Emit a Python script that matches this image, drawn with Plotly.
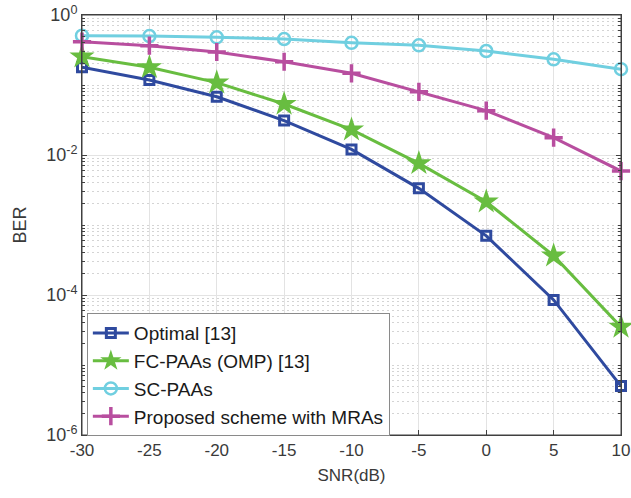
import plotly.graph_objects as go

snr = [-30, -25, -20, -15, -10, -5, 0, 5, 10]
ber_optimal = [0.179, 0.118, 0.068, 0.031, 0.012, 0.00334, 7.0e-4, 8.5e-5, 5.0e-6]
ber_fc_omp = [0.254, 0.179, 0.108, 0.0535, 0.023, 0.0076, 0.00215, 3.64e-4, 3.5e-5]
ber_sc = [0.506, 0.50, 0.48, 0.454, 0.40, 0.369, 0.306, 0.233, 0.168]
ber_proposed = [0.416, 0.364, 0.296, 0.215, 0.147, 0.080, 0.043, 0.0177, 0.0059]

names = ["Optimal [13]", "FC-PAAs (OMP) [13]", "SC-PAAs", "Proposed scheme with MRAs"]
x_ticks = [-30, -25, -20, -15, -10, -5, 0, 5, 10]
x_ticktext = ["-30", "-25", "-20", "-15", "-10", "-5", "0", "5", "10"]
y_tickvals = [1, 1e-2, 1e-4, 1e-6]
y_ticktext = ["10<sup>0</sup>", "10<sup>-2</sup>", "10<sup>-4</sup>", "10<sup>-6</sup>"]

FONT = "Liberation Sans, Arial, Helvetica, sans-serif"
AX = "#404040"

fig = go.Figure()
styles = [
    (ber_optimal, "#2f4a9f", dict(symbol="square-open", size=9, line=dict(width=3, color="#2f4a9f"))),
    (ber_fc_omp, "#68bd40", dict(symbol="star", size=19, line=dict(width=0))),
    (ber_sc, "#70cfe0", dict(symbol="circle-open", size=12, line=dict(width=2.5, color="#70cfe0"))),
    (ber_proposed, "#b84e9f", dict(symbol="cross-thin-open", size=13, line=dict(width=3.5, color="#b84e9f"))),
]
for i, (vals, col, mk) in enumerate(styles):
    mk = dict(mk)
    mk["color"] = col
    fig.add_trace(go.Scatter(
        x=snr, y=vals, mode="lines+markers", name=names[i], legendgroup=str(i),
        line=dict(color=col, width=3), marker=mk, cliponaxis=False,
    ))

minor_vals = [k * 10 ** n for n in range(-6, 0) for k in range(1, 10)]

fig.add_shape(type="rect", xref="paper", yref="paper", x0=0, x1=1, y0=0, y1=1,
              line=dict(color=AX, width=1), layer="above")

fig.update_layout(
    width=631, height=498,
    margin=dict(l=82, r=10, t=15, b=63, autoexpand=False),
    paper_bgcolor="white", plot_bgcolor="white",
    font=dict(family=FONT, size=16, color="#262626"),
    legend=dict(
        x=0.009, y=0.29, xanchor="left", yanchor="top",
        bgcolor="white", bordercolor="#8a8a8a", borderwidth=1,
        font=dict(size=19, color="#1a1a1a"), tracegroupgap=0, itemwidth=36,
    ),
    xaxis=dict(
        range=[-30, 10], tickvals=x_ticks, ticktext=x_ticktext, automargin=False,
        ticklabeloverflow="allow",
        ticks="inside", ticklen=5, tickcolor=AX,
        showline=True, linecolor=AX, linewidth=1, mirror="ticks",
        showgrid=True, gridcolor="#e3e3e3", gridwidth=1, zeroline=False,
        tickfont=dict(size=17, color="#3a3a3a"),
        title=dict(text="SNR(dB)", font=dict(size=17, color="#3a3a3a"), standoff=9),
    ),
    yaxis=dict(
        type="log", range=[-6, 0], tickvals=y_tickvals, ticktext=y_ticktext, automargin=False,
        ticklabeloverflow="allow",
        ticks="inside", ticklen=5, tickcolor=AX,
        showline=True, linecolor=AX, linewidth=1, mirror="ticks",
        showgrid=True, gridcolor="#e3e3e3", gridwidth=1, zeroline=False,
        tickfont=dict(size=18, color="#3a3a3a"),
        title=dict(text="BER", font=dict(size=18, color="#3a3a3a"), standoff=14),
        minor=dict(tickvals=minor_vals, ticks="inside", ticklen=3, tickcolor=AX,
                   showgrid=True, gridcolor="#d4d4d4", griddash="2px,3px", gridwidth=1),
    ),
)

# remove the browser's default 8px body margin so the figure fills the window exactly
fig.write_html("out.html", config={"displayModeBar": False},
               post_script="document.body.style.margin='0';")
